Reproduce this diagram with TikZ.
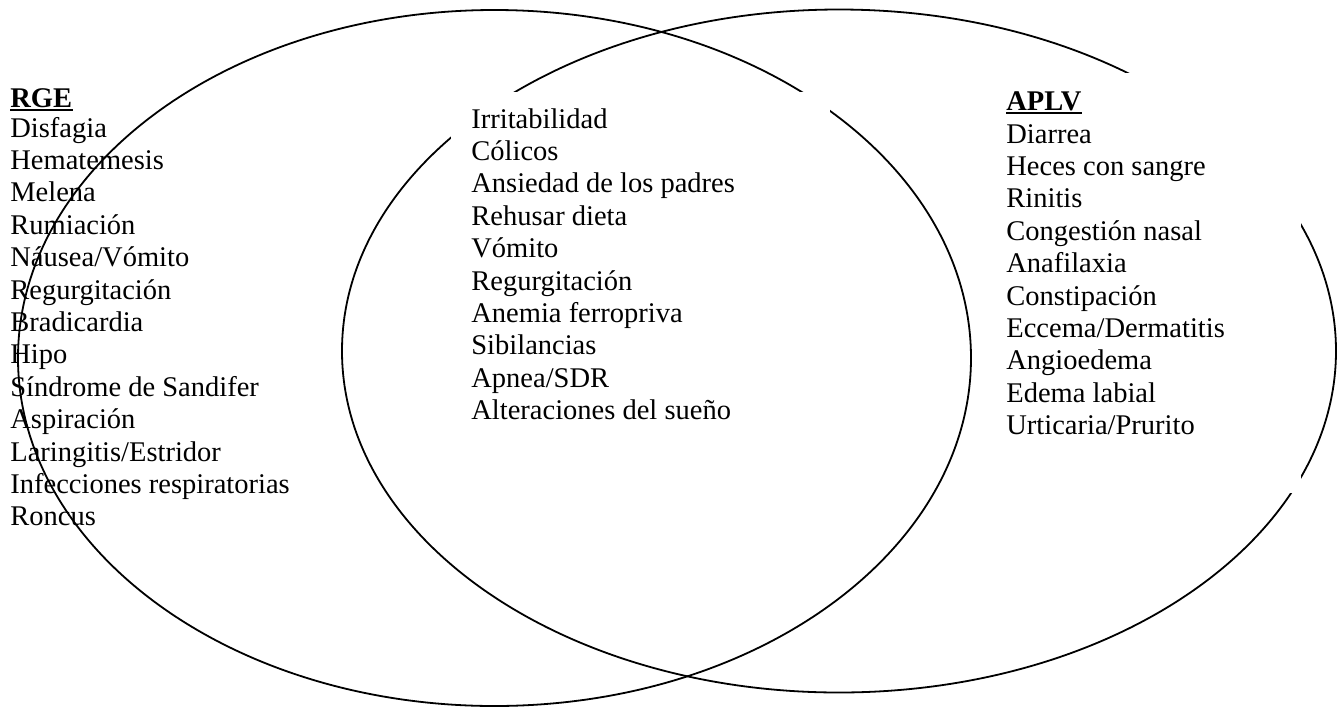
\documentclass[tikz,border=0pt]{standalone}
\usepackage{fontspec}
\setmainfont{Liberation Serif}
\begin{document}
\begin{tikzpicture}[x=0.5pt,y=-0.5pt,
  venn/.style={line width=0.9pt, black},
  cover/.style={fill=white},
  txt/.style={anchor=base west, inner sep=0pt, font=\fontsize{14.25pt}{16.2pt}\selectfont},
  head/.style={txt, font=\fontsize{14.25pt}{16.2pt}\selectfont\bfseries},
  uline/.style={line width=1.2pt}]
\useasboundingbox (0,0) rectangle (1341,708);
% circles of the Venn diagram
\draw[venn] (494.5,358) ellipse [x radius=238.25pt, y radius=174pt];
\draw[venn] (839,351) ellipse [x radius=248.5pt, y radius=170.75pt];
% white text boxes that hide parts of the outlines
\fill[cover] (451,92) rectangle (830,450);
\fill[cover] (985,73) rectangle (1301,493);
% left set
\node[head] (rgeh) at (10,107) {RGE};
\draw[uline] ([yshift=-1.6pt]rgeh.base west) -- ([yshift=-1.6pt]rgeh.base east);
\foreach \t [count=\i from 0] in {Disfagia, Hematemesis, Melena, Rumiación, Náusea/Vómito, Regurgitación, Bradicardia, Hipo, Síndrome de Sandifer, Aspiración, Laringitis/Estridor, Infecciones respiratorias, Roncus}
  \node[txt] (rge\i) at (10,{137+32.4*\i}) {\t};
% intersection
\foreach \t [count=\i from 0] in {Irritabilidad, Cólicos, Ansiedad de los padres, Rehusar dieta, Vómito, Regurgitación, Anemia ferropriva, Sibilancias, Apnea/SDR, Alteraciones del sueño}
  \node[txt] (com\i) at (471,{128+32.4*\i}) {\t};
% right set
\node[head] (aplvh) at (1006,110) {APLV};
\draw[uline] ([yshift=-1.6pt]aplvh.base west) -- ([yshift=-1.6pt]aplvh.base east);
\foreach \t [count=\i from 0] in {Diarrea, Heces con sangre, Rinitis, Congestión nasal, Anafilaxia, Constipación, Eccema/Dermatitis, Angioedema, Edema labial, Urticaria/Prurito}
  \node[txt] (aplv\i) at (1006,{143+32.4*\i}) {\t};
\end{tikzpicture}
\end{document}
